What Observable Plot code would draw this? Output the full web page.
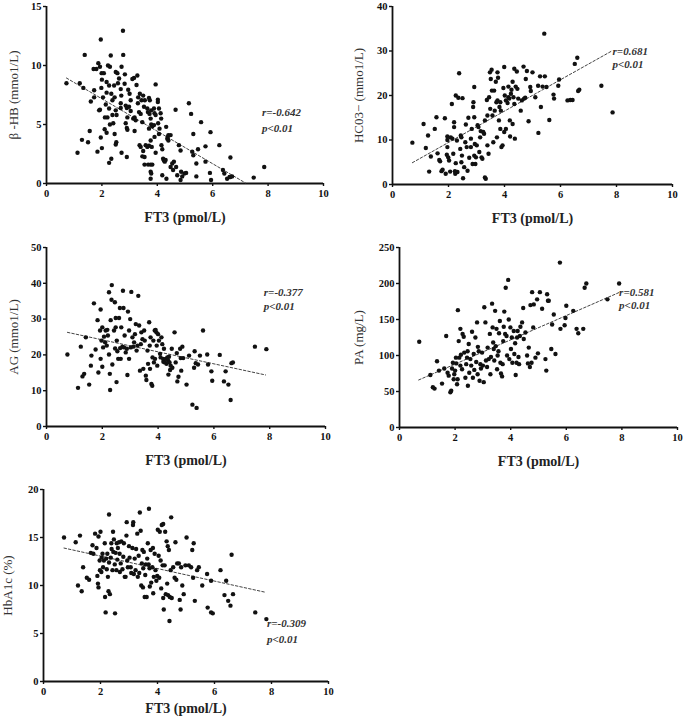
<!DOCTYPE html>
<html>
<head>
<meta charset="utf-8">
<script src="https://cdn.jsdelivr.net/npm/d3@7"></script>
<script src="https://cdn.jsdelivr.net/npm/@observablehq/plot@0.6"></script>
<style>
  body { margin: 0; background: #fff; }
  #wrap { position: relative; width: 685px; height: 727px; background: #fff; }
  #wrap svg { position: absolute; }
</style>
</head>
<body>
<div id="wrap"></div>
<script>
// ---------- DATA (x = FT3 pmol/L, y = measure) ----------
const xTicks = [0, 2, 4, 6, 8, 10];
const xTitle = "FT3 (pmol/L)";

// β-HB (mmol/L)
const hbPoints = [
[0.72,8.5],[1.2,8.5],[1.33,8.1],[1.38,10.9],[1.28,3.7],[1.12,2.6],[1.5,3.5],[1.56,4.45],[1.6,6.95],[1.72,7.3],
[1.72,7.9],[1.7,9.7],[1.8,9.7],[1.87,10.2],[1.93,9.9],[1.96,12.2],[1.99,9.35],[2.07,9.35],[2.0,8.8],[1.98,8.1],
[1.9,6.2],[1.93,6.25],[1.96,3.9],[2.0,3.0],[1.84,2.7],[2.04,7.3],[2.17,7.7],[2.14,6.7],[2.11,5.6],[2.2,5.6],
[2.1,4.6],[2.17,4.3],[2.26,1.75],[2.34,2.1],[2.22,10.0],[2.29,9.9],[2.32,10.85],[2.17,8.6],[2.26,8.3],[2.34,7.6],
[2.38,7.05],[2.26,6.35],[2.38,5.8],[2.29,5.0],[2.41,5.1],[2.46,7.3],[2.5,9.45],[2.56,9.35],[2.58,8.5],[2.62,8.9],
[2.44,8.3],[2.5,6.2],[2.53,5.8],[2.46,4.2],[2.52,3.5],[2.5,3.3],[2.68,8.0],[2.7,7.45],[2.68,6.8],[2.68,6.4],
[2.76,12.95],[2.77,10.9],[2.71,9.9],[2.83,9.25],[2.82,8.45],[2.86,6.6],[2.9,6.4],[2.92,5.6],[2.86,5.1],[2.9,4.7],
[2.92,4.55],[2.71,2.6],[2.9,2.25],[2.95,7.95],[3.0,7.6],[3.04,7.05],[2.98,6.5],[3.04,6.15],[3.13,5.5],[3.1,8.85],
[3.16,8.95],[3.28,9.15],[3.25,8.35],[3.31,7.3],[3.37,7.6],[3.18,5.6],[3.22,5.35],[3.3,6.8],[3.34,6.05],[3.18,4.45],
[3.36,3.25],[3.4,3.1],[3.4,5.9],[3.46,5.2],[3.43,7.05],[3.49,7.45],[3.52,6.5],[3.55,7.05],[3.46,2.3],[3.54,2.25],
[3.54,1.6],[3.49,2.75],[3.58,3.25],[3.64,3.1],[3.64,6.35],[3.66,6.05],[3.72,5.9],[3.7,7.25],[3.73,7.05],[3.78,6.2],
[3.76,5.5],[3.78,5.0],[3.82,4.85],[3.7,4.65],[3.76,3.65],[3.7,3.2],[3.8,3.1],[3.67,1.6],[3.76,1.6],[3.82,1.6],
[3.76,1.0],[3.78,0.85],[3.76,0.4],[3.88,6.35],[3.9,5.95],[3.94,5.8],[3.94,8.4],[4.02,7.1],[4.02,6.9],[4.06,6.35],
[4.12,5.95],[4.14,5.5],[4.03,5.1],[4.08,4.65],[3.88,4.95],[3.9,3.95],[3.94,2.6],[4.06,4.2],[4.15,3.25],[4.18,2.9],
[4.21,2.1],[4.24,1.95],[4.27,1.85],[4.3,2.0],[4.18,0.7],[4.32,4.8],[4.36,3.8],[4.38,3.95],[4.4,4.1],[4.4,3.65],
[4.33,0.4],[4.48,4.1],[4.48,1.4],[4.54,1.7],[4.57,1.15],[4.6,1.85],[4.66,6.25],[4.68,1.4],[4.72,0.7],[4.78,3.25],
[4.84,2.8],[4.86,1.0],[4.84,0.3],[4.9,0.6],[4.98,0.85],[5.04,0.9],[5.14,6.8],[5.22,5.9],[5.26,2.7],[5.3,2.4],
[5.3,4.2],[5.41,1.7],[5.41,0.6],[5.47,2.9],[5.58,5.2],[5.74,3.15],[5.74,1.85],[5.92,4.35],[5.9,0.9],[5.94,0.3],
[6.24,3.25],[6.37,1.15],[6.42,0.85],[6.52,0.4],[6.61,0.55],[6.64,2.2],[6.64,0.55],[6.7,0.6],[7.48,0.5],[7.86,1.4]
];
const hbFit = [[0.72, 8.94], [7.18, 0.05]];

// HCO3- (mmol/L)
const hco3Points = [
[0.71,9.4],[1.11,13.6],[1.19,8.2],[1.27,11.0],[1.31,2.9],[1.37,6.3],[1.51,12.5],[1.57,15.1],[1.61,7.0],[1.67,5.5],
[1.7,5.2],[1.75,3.0],[1.79,3.3],[1.87,14.9],[1.9,2.4],[1.94,6.7],[1.96,10.0],[1.96,10.8],[1.96,8.4],[1.99,6.1],
[2.02,5.4],[2.06,2.9],[2.08,10.6],[2.12,18.1],[2.14,10.3],[2.17,6.9],[2.2,14.0],[2.2,12.9],[2.23,3.0],[2.24,2.4],
[2.26,4.8],[2.26,20.0],[2.3,9.9],[2.32,2.8],[2.35,19.5],[2.38,25.0],[2.42,8.0],[2.44,11.0],[2.46,10.6],[2.46,5.0],
[2.48,6.5],[2.5,19.4],[2.52,1.4],[2.56,3.9],[2.6,9.5],[2.62,13.5],[2.65,8.4],[2.68,3.1],[2.71,15.0],[2.74,6.0],
[2.8,10.3],[2.8,8.4],[2.83,12.5],[2.86,4.6],[2.88,17.4],[2.89,18.5],[2.92,21.9],[2.92,15.1],[2.92,6.5],[2.94,9.1],
[2.96,4.6],[2.98,6.1],[3.01,8.8],[3.04,13.3],[3.07,12.9],[3.1,7.3],[3.13,10.6],[3.15,12.0],[3.18,6.1],[3.21,5.8],
[3.24,11.8],[3.27,11.4],[3.3,14.4],[3.3,1.6],[3.33,1.3],[3.37,19.0],[3.39,8.8],[3.39,15.5],[3.43,6.9],[3.45,19.6],
[3.48,25.2],[3.49,17.0],[3.51,23.7],[3.54,25.8],[3.55,21.1],[3.57,15.5],[3.6,9.5],[3.63,21.1],[3.65,16.6],[3.69,23.1],
[3.71,18.5],[3.73,10.6],[3.75,18.9],[3.75,25.2],[3.77,24.0],[3.8,14.4],[3.82,17.4],[3.85,12.5],[3.85,18.5],[3.87,16.6],
[3.89,8.4],[3.93,8.8],[3.96,21.7],[3.99,26.4],[3.99,11.8],[4.01,20.0],[4.05,12.5],[4.05,18.9],[4.11,18.3],[4.14,22.0],
[4.14,19.6],[4.17,19.3],[4.19,14.4],[4.2,10.8],[4.23,20.4],[4.25,21.3],[4.29,13.6],[4.29,23.1],[4.32,19.6],[4.35,26.0],
[4.35,18.1],[4.37,10.3],[4.4,22.0],[4.44,25.4],[4.46,21.5],[4.49,19.3],[4.58,16.6],[4.62,18.9],[4.68,26.5],[4.7,19.3],
[4.74,19.5],[4.76,23.7],[4.8,25.5],[4.86,14.2],[4.92,21.9],[4.94,21.0],[5.0,25.2],[5.1,19.6],[5.2,22.2],[5.21,11.6],
[5.27,24.3],[5.3,17.4],[5.36,22.0],[5.42,33.9],[5.44,24.3],[5.5,21.9],[5.6,14.5],[5.75,20.2],[5.77,19.3],[5.92,22.2],
[5.95,23.6],[6.25,18.9],[6.35,19.0],[6.43,19.0],[6.51,27.1],[6.6,28.5],[6.63,21.0],[6.67,21.3],[7.46,22.2],[7.86,16.2]
];
const hco3Fit = [[0.71, 4.9], [7.86, 30.1]];

// AG (mmol/L)
const agPoints = [
[0.75,20.1],[1.13,10.8],[1.23,22.3],[1.29,14.0],[1.35,14.7],[1.41,24.9],[1.53,11.7],[1.59,17.0],[1.61,19.8],[1.7,34.4],
[1.76,21.5],[1.83,29.7],[1.86,15.1],[1.92,26.8],[1.94,32.7],[1.94,18.9],[1.97,24.0],[2.0,27.7],[2.0,16.7],[2.03,22.1],
[2.06,25.1],[2.1,23.5],[2.12,26.8],[2.16,22.6],[2.18,27.0],[2.2,25.4],[2.24,37.5],[2.24,20.1],[2.27,14.7],[2.28,10.2],
[2.3,29.7],[2.33,35.4],[2.34,39.5],[2.36,17.3],[2.42,26.8],[2.45,34.7],[2.46,21.8],[2.48,27.7],[2.48,30.3],[2.51,12.4],
[2.52,24.0],[2.54,21.0],[2.57,18.9],[2.6,30.3],[2.63,33.1],[2.64,21.9],[2.66,18.9],[2.68,27.7],[2.72,22.3],[2.74,37.9],
[2.76,33.1],[2.78,22.1],[2.8,25.4],[2.84,20.7],[2.88,21.7],[2.9,14.4],[2.92,32.1],[2.96,18.9],[2.96,26.8],[3.0,30.0],
[3.02,22.1],[3.04,37.6],[3.08,24.9],[3.11,22.3],[3.14,23.5],[3.17,25.8],[3.2,28.6],[3.23,21.2],[3.26,22.6],[3.29,36.5],
[3.32,28.2],[3.35,15.6],[3.38,23.0],[3.4,26.3],[3.44,24.4],[3.47,16.1],[3.5,26.8],[3.52,24.0],[3.56,14.2],[3.58,13.0],
[3.62,21.2],[3.64,17.5],[3.68,29.1],[3.7,22.6],[3.71,16.1],[3.73,24.9],[3.76,11.9],[3.79,11.4],[3.8,19.3],[3.83,24.0],
[3.85,17.9],[3.88,26.8],[3.89,18.9],[3.91,27.0],[3.94,26.3],[3.95,22.6],[3.97,17.0],[4.0,25.8],[4.03,24.0],[4.07,20.3],
[4.09,19.3],[4.12,24.9],[4.15,23.0],[4.18,18.9],[4.19,18.1],[4.21,21.7],[4.24,17.9],[4.27,18.9],[4.3,17.5],[4.33,19.3],
[4.36,18.4],[4.37,14.5],[4.39,19.5],[4.41,17.9],[4.43,15.8],[4.45,17.0],[4.49,21.7],[4.51,16.4],[4.59,26.3],[4.63,17.9],
[4.67,20.5],[4.69,12.6],[4.73,13.9],[4.79,21.7],[4.81,19.1],[4.83,15.6],[4.87,22.3],[4.9,19.1],[5.02,11.7],[5.11,19.8],
[5.23,6.1],[5.29,16.4],[5.31,21.0],[5.35,17.7],[5.38,5.2],[5.43,17.3],[5.5,19.8],[5.61,26.8],[5.76,20.1],[5.79,17.3],
[5.91,15.4],[5.94,12.8],[6.21,20.0],[6.36,12.6],[6.42,15.4],[6.52,11.7],[6.6,7.4],[6.63,17.7],[6.68,17.9],[7.47,22.3],
[7.88,21.6]
];
const agFit = [[0.75, 26.3], [7.85, 14.4]];

// PA (mg/L)
const paPoints = [
[0.71,119],[1.11,73],[1.2,56],[1.26,54],[1.35,92],[1.42,79],[1.53,61],[1.61,82],[1.68,127],[1.73,76],
[1.77,72],[1.83,49],[1.86,51],[1.89,82],[1.92,90],[1.95,67],[1.97,74],[2.0,79],[2.03,97],[2.04,89],
[2.07,60],[2.09,67],[2.1,163],[2.13,120],[2.15,97],[2.19,86],[2.19,137],[2.21,101],[2.25,81],[2.27,130],
[2.31,126],[2.33,104],[2.37,69],[2.4,88],[2.43,97],[2.45,106],[2.46,58],[2.49,116],[2.51,76],[2.55,95],
[2.58,86],[2.61,133],[2.64,69],[2.67,102],[2.69,80],[2.73,125],[2.76,91],[2.79,146],[2.81,74],[2.82,112],
[2.85,106],[2.88,65],[2.91,88],[2.93,82],[2.97,104],[3.0,86],[3.03,63],[3.05,167],[3.09,146],[3.11,93],
[3.15,84],[3.17,111],[3.21,95],[3.25,130],[3.27,74],[3.29,98],[3.33,172],[3.35,139],[3.37,118],[3.39,109],
[3.41,93],[3.44,162],[3.46,113],[3.49,137],[3.51,81],[3.53,100],[3.56,106],[3.58,131],[3.61,148],[3.63,90],
[3.65,75],[3.69,71],[3.71,88],[3.73,120],[3.75,140],[3.77,161],[3.8,130],[3.82,194],[3.85,127],[3.87,100],
[3.91,205],[3.93,150],[3.95,95],[3.99,139],[4.01,109],[4.04,125],[4.06,90],[4.11,134],[4.13,102],[4.16,117],
[4.18,73],[4.21,90],[4.23,125],[4.25,134],[4.28,98],[4.3,88],[4.33,127],[4.35,140],[4.41,146],[4.45,166],
[4.47,123],[4.53,132],[4.59,100],[4.62,89],[4.65,111],[4.69,84],[4.71,170],[4.75,90],[4.77,188],[4.81,139],
[4.83,171],[4.89,97],[4.95,178],[4.98,103],[5.05,188],[5.13,165],[5.25,95],[5.28,79],[5.31,185],[5.34,176],
[5.37,176],[5.46,109],[5.49,143],[5.55,157],[5.61,102],[5.77,229],[5.79,137],[5.94,142],[5.97,152],[6.0,169],
[6.25,162],[6.37,137],[6.43,131],[6.61,137],[6.66,194],[6.72,200],[7.48,178],[7.9,200]
];
const paFit = [[0.69, 66], [7.9, 187.5]];

// HbA1c (%)
const hba1cPoints = [
[0.72,15.0],[1.13,14.5],[1.21,10.0],[1.28,15.2],[1.34,9.4],[1.39,11.9],[1.52,10.8],[1.6,10.6],[1.66,13.4],[1.72,14.2],
[1.75,13.3],[1.81,15.4],[1.86,13.9],[1.89,11.0],[1.91,10.2],[1.93,9.8],[1.93,15.1],[1.97,12.6],[1.98,11.6],[2.0,15.6],
[2.03,11.4],[2.04,12.9],[2.07,13.3],[2.09,11.9],[2.12,12.6],[2.15,14.4],[2.16,8.8],[2.18,7.2],[2.2,12.8],[2.22,11.7],
[2.24,13.3],[2.26,10.9],[2.28,9.4],[2.3,17.4],[2.3,12.4],[2.33,9.1],[2.36,12.9],[2.38,14.4],[2.39,13.8],[2.42,11.6],
[2.44,15.6],[2.45,13.5],[2.47,14.8],[2.5,12.2],[2.51,7.1],[2.53,13.4],[2.56,11.6],[2.57,14.4],[2.59,12.7],[2.61,13.9],
[2.65,14.5],[2.67,13.3],[2.68,11.4],[2.71,12.3],[2.73,14.6],[2.77,11.7],[2.8,13.0],[2.82,14.4],[2.85,10.9],[2.88,10.9],
[2.91,15.2],[2.92,16.6],[2.94,12.6],[2.96,11.9],[3.0,14.1],[3.02,12.9],[3.06,11.9],[3.08,11.3],[3.12,13.9],[3.14,16.3],
[3.15,16.6],[3.17,11.2],[3.2,12.8],[3.23,11.6],[3.25,13.8],[3.29,15.4],[3.31,10.9],[3.34,13.1],[3.36,11.3],[3.38,17.6],
[3.41,15.7],[3.43,10.0],[3.45,12.3],[3.47,13.7],[3.49,9.8],[3.5,11.8],[3.52,13.5],[3.55,8.8],[3.57,11.1],[3.59,12.2],
[3.62,8.8],[3.64,12.8],[3.66,14.4],[3.69,12.2],[3.7,18.0],[3.72,11.8],[3.73,9.9],[3.76,13.7],[3.78,10.3],[3.82,11.9],
[3.84,13.9],[3.85,9.2],[3.87,10.9],[3.9,13.3],[3.93,11.6],[3.96,10.5],[3.99,11.0],[4.01,15.8],[4.04,13.1],[4.06,10.8],
[4.08,15.6],[4.11,12.6],[4.13,9.7],[4.15,16.3],[4.18,12.1],[4.2,16.4],[4.2,8.7],[4.22,7.5],[4.25,12.1],[4.27,15.6],
[4.29,9.1],[4.32,14.6],[4.34,10.2],[4.36,14.1],[4.37,9.0],[4.4,13.7],[4.42,6.3],[4.43,8.8],[4.46,11.6],[4.48,17.1],
[4.5,8.7],[4.55,11.9],[4.6,10.8],[4.63,14.5],[4.66,10.6],[4.69,12.3],[4.75,12.3],[4.78,8.5],[4.81,7.5],[4.83,11.9],
[4.87,10.0],[4.92,9.1],[4.98,12.1],[5.02,15.0],[5.1,12.1],[5.18,11.9],[5.22,13.7],[5.25,10.8],[5.27,14.4],[5.31,8.4],
[5.39,11.6],[5.45,11.9],[5.57,10.0],[5.74,11.2],[5.76,7.7],[5.88,10.5],[5.88,7.2],[5.94,7.1],[6.21,11.6],[6.35,9.0],
[6.41,10.5],[6.48,8.4],[6.56,7.9],[6.6,13.2],[6.65,9.1],[7.43,7.2],[7.82,6.5]
];
const hba1cFit = [[0.72, 13.9], [7.78, 9.3]];

// y-axis titles, tick values and statistics
const yTitles = ["β -HB (mmo1/L)", "HC03− (mmo1/L)", "AG (mmo1/L)", "PA (mg/L)", "HbA1c (%)"];
const yTickSets = [[0, 5, 10, 15], [0, 10, 20, 30, 40], [0, 10, 20, 30, 40, 50], [0, 50, 100, 150, 200, 250], [0, 5, 10, 15, 20]];
const rTexts = ["r=-0.642", "r=0.681", "r=-0.377", "r=0.581", "r=-0.309"];
const pText = "p<0.01";

// ---------- LAYOUT ----------
const SERIF = "'Liberation Serif', 'Times New Roman', 'DejaVu Serif', serif";
const panels = [
  {pts: hbPoints, fit: hbFit, left: 0, top: 0, w: 340, h: 230, ml: 46, mr: 17, mt: 6, mb: 47, ylabDx: -33, xlabDy: 34, ann: [7.78, 6.0, 4.7]},
  {pts: hco3Points, fit: hco3Fit, left: 340, top: 0, w: 345, h: 230, ml: 52, mr: 13, mt: 6, mb: 46, ylabDx: -34, xlabDy: 34, ann: [7.86, 30.0, 26.9]},
  {pts: agPoints, fit: agFit, left: 0, top: 230, w: 340, h: 240, ml: 46, mr: 15, mt: 17, mb: 44, ylabDx: -33, xlabDy: 34, ann: [7.79, 37.5, 33.5]},
  {pts: paPoints, fit: paFit, left: 340, top: 230, w: 345, h: 240, ml: 59, mr: 8, mt: 17, mb: 43, ylabDx: -41, xlabDy: 34, ann: [7.9, 187.5, 169]},
  {pts: hba1cPoints, fit: hba1cFit, left: 0, top: 470, w: 340, h: 257, ml: 43, mr: 12, mt: 19, mb: 46, ylabDx: -36, xlabDy: 27, ann: [7.84, 6.0, 4.4]}
];

const wrap = document.getElementById("wrap");
panels.forEach((p, i) => {
  const yt = yTickSets[i];
  const svg = Plot.plot({
    width: p.w, height: p.h,
    marginLeft: p.ml, marginRight: p.mr, marginTop: p.mt, marginBottom: p.mb,
    style: {fontFamily: SERIF, background: "transparent", overflow: "visible", color: "#111"},
    x: {domain: [0, 10], label: null},
    y: {domain: [yt[0], yt[yt.length - 1]], label: null},
    marks: [
      Plot.axisX({ticks: xTicks, tickSize: 3, tickPadding: 3, fontSize: 10.5, fontWeight: "bold", label: null, strokeWidth: 1.4}),
      Plot.axisY({ticks: yt, tickSize: 3, tickPadding: 2, fontSize: 10.5, fontWeight: "bold", label: null, strokeWidth: 1.4}),
      Plot.ruleY([yt[0]], {stroke: "#111", strokeWidth: 1.8}),
      Plot.ruleX([0], {stroke: "#111", strokeWidth: 1.8}),
      Plot.line(p.fit, {x: d => d[0], y: d => d[1], stroke: "#444", strokeWidth: 1, strokeDasharray: "2.5,2"}),
      Plot.dot(p.pts, {x: d => d[0], y: d => d[1], r: 2.2, fill: "#111", stroke: "none"}),
      Plot.text([rTexts[i]], {x: () => p.ann[0], y: () => p.ann[1], text: d => d, textAnchor: "start", lineAnchor: "middle", fontSize: 11, fontWeight: "bold", fontStyle: "italic", fill: "#333"}),
      Plot.text([pText], {x: () => p.ann[0], y: () => p.ann[2], text: d => d, textAnchor: "start", lineAnchor: "middle", fontSize: 11, fontWeight: "bold", fontStyle: "italic", fill: "#333"}),
      Plot.text([xTitle], {frameAnchor: "bottom", dy: p.xlabDy, text: d => d, lineAnchor: "middle", fontSize: 14, fontWeight: "bold", fill: "#222"}),
      Plot.text([yTitles[i]], {frameAnchor: "left", dx: p.ylabDx, rotate: -90, text: d => d, textAnchor: "middle", lineAnchor: "middle", fontSize: 13, fontWeight: "normal", fill: "#333"})
    ]
  });
  svg.style.left = p.left + "px";
  svg.style.top = p.top + "px";
  wrap.appendChild(svg);
});
</script>
</body>
</html>
